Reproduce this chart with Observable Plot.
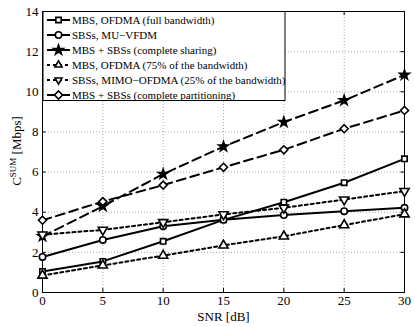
<!DOCTYPE html>
<html>
<head>
<meta charset="utf-8">
<script src="https://cdn.jsdelivr.net/npm/d3@7"></script>
<script src="https://cdn.jsdelivr.net/npm/@observablehq/plot@0.6"></script>
<style>
  body { margin: 0; background: white; }
  svg { font-family: "Liberation Serif", "DejaVu Serif", serif; }
</style>
</head>
<body>
<div id="chart"></div>
<script>
const snr = [0, 5, 10, 15, 20, 25, 30];
const seriesNames = [
  "MBS, OFDMA (full bandwidth)",
  "SBSs, MU\u2212VFDM",
  "MBS + SBSs (complete sharing)",
  "MBS, OFDMA (75% of the bandwidth)",
  "SBSs, MIMO\u2212OFDMA (25% of the bandwidth)",
  "MBS + SBSs (complete partitioning)"
];
const mbsFull   = [1.05, 1.55, 2.55, 3.62, 4.50, 5.47, 6.66];
const sbsVfdm   = [1.77, 2.62, 3.30, 3.62, 3.86, 4.05, 4.22];
const sharing   = [2.80, 4.30, 5.90, 7.27, 8.49, 9.57, 10.84];
const mbs75     = [0.85, 1.35, 1.84, 2.35, 2.80, 3.36, 3.90];
const sbsMimo   = [2.88, 3.12, 3.50, 3.89, 4.22, 4.63, 5.05];
const partition = [3.60, 4.53, 5.35, 6.24, 7.11, 8.16, 9.07];
const xTicks = [0, 5, 10, 15, 20, 25, 30];
const yTicks = [0, 2, 4, 6, 8, 10, 12, 14];

const values = [mbsFull, sbsVfdm, sharing, mbs75, sbsMimo, partition];
// styles per series
const styles = [
  {symbol: "square2", d3sym: d3.symbolSquare2, dash: null, fill: "white", r: 3.4, rotate: 0},
  {symbol: "circle", d3sym: d3.symbolCircle, dash: null, fill: "white", r: 3.2, rotate: 0},
  {symbol: "star", d3sym: d3.symbolStar, dash: "9,5", fill: "black", r: 3.0, rotate: 0},
  {symbol: "triangle", d3sym: d3.symbolTriangle2, dash: "3,3", fill: "white", r: 3.4, rotate: 0},
  {symbol: "triangle", d3sym: d3.symbolTriangle2, dash: "3,3", fill: "white", r: 3.4, rotate: 180},
  {symbol: "diamond2", d3sym: d3.symbolDiamond2, dash: "9,5", fill: "white", r: 3.6, rotate: 0}
];

const rows = values.map((vals, i) => snr.map((x, j) => ({series: seriesNames[i], x, y: vals[j]})));

const marks = [
  Plot.gridX(xTicks, {stroke: "#aaa", strokeOpacity: 1, strokeDasharray: "1,2"}),
  Plot.gridY(yTicks, {stroke: "#aaa", strokeOpacity: 1, strokeDasharray: "1,2"}),
  Plot.ruleX(xTicks, {y1: 0, y2: 0.2, stroke: "black"}),
  Plot.ruleX(xTicks, {y1: 14, y2: 13.8, stroke: "black"}),
  Plot.ruleY(yTicks, {x1: 0, x2: 0.3, stroke: "black"}),
  Plot.ruleY(yTicks, {x1: 30, x2: 29.7, stroke: "black"}),
  Plot.frame({stroke: "black", strokeWidth: 1}),
  Plot.axisX(xTicks, {tickSize: 0, tickPadding: 3, fontSize: 13, label: null}),
  Plot.axisY(yTicks, {tickSize: 0, tickPadding: 4, fontSize: 13, label: null}),
  Plot.text(["SNR [dB]"], {frameAnchor: "bottom", dy: 28, fontSize: 13})
];
rows.forEach((r, i) => {
  const s = styles[i];
  marks.push(Plot.line(r, {x: "x", y: "y", stroke: "black", strokeWidth: 2, strokeDasharray: s.dash}));
});
rows.forEach((r, i) => {
  const s = styles[i];
  marks.push(Plot.dot(r, {x: "x", y: "y", symbol: s.symbol, r: s.r, stroke: "black", strokeWidth: 1.6, fill: s.fill, rotate: s.rotate}));
});

const plot = Plot.plot({
  width: 415,
  height: 327,
  marginLeft: 42,
  marginRight: 11,
  marginTop: 11,
  marginBottom: 35,
  style: {fontFamily: "Liberation Serif", fontSize: "13px", color: "black", background: "white"},
  x: {domain: [0, 30]},
  y: {domain: [0, 14]},
  marks
});
document.getElementById("chart").appendChild(plot);

const svg = d3.select(plot);
// y label with superscript
const yl = svg.append("text")
  .attr("transform", "translate(21,151) rotate(-90)")
  .attr("text-anchor", "middle")
  .attr("font-family", "Liberation Serif")
  .attr("font-size", 13)
  .attr("fill", "black");
yl.append("tspan").text("C");
yl.append("tspan").attr("font-size", 9).attr("dy", -5).text("SUM");
yl.append("tspan").attr("dy", 5).text(" [Mbps]");

// legend
const lg = svg.append("g").attr("text-anchor", "start").attr("font-family", "Liberation Serif");
lg.append("rect").attr("x", 43).attr("y", 11.5).attr("width", 242).attr("height", 89)
  .attr("fill", "white").attr("stroke", "black").attr("stroke-width", 1);
seriesNames.forEach((name, i) => {
  const s = styles[i];
  const y = 20 + i * 15;
  lg.append("line").attr("x1", 47).attr("x2", 70).attr("y1", y).attr("y2", y)
    .attr("stroke", "black").attr("stroke-width", 2)
    .attr("stroke-dasharray", s.dash === "3,3" ? "3,3" : null);
  lg.append("path").attr("d", d3.symbol(s.d3sym, s.r * s.r * Math.PI)())
    .attr("transform", `translate(58.5,${y}) rotate(${s.rotate})`)
    .attr("fill", s.fill).attr("stroke", "black").attr("stroke-width", 1.6);
  lg.append("text").attr("x", 72).attr("y", y).attr("dy", "0.35em")
    .attr("text-anchor", "start")
    .attr("font-family", "Liberation Serif")
    .attr("font-size", 11).attr("fill", "black").text(name);
});
</script>
</body>
</html>
